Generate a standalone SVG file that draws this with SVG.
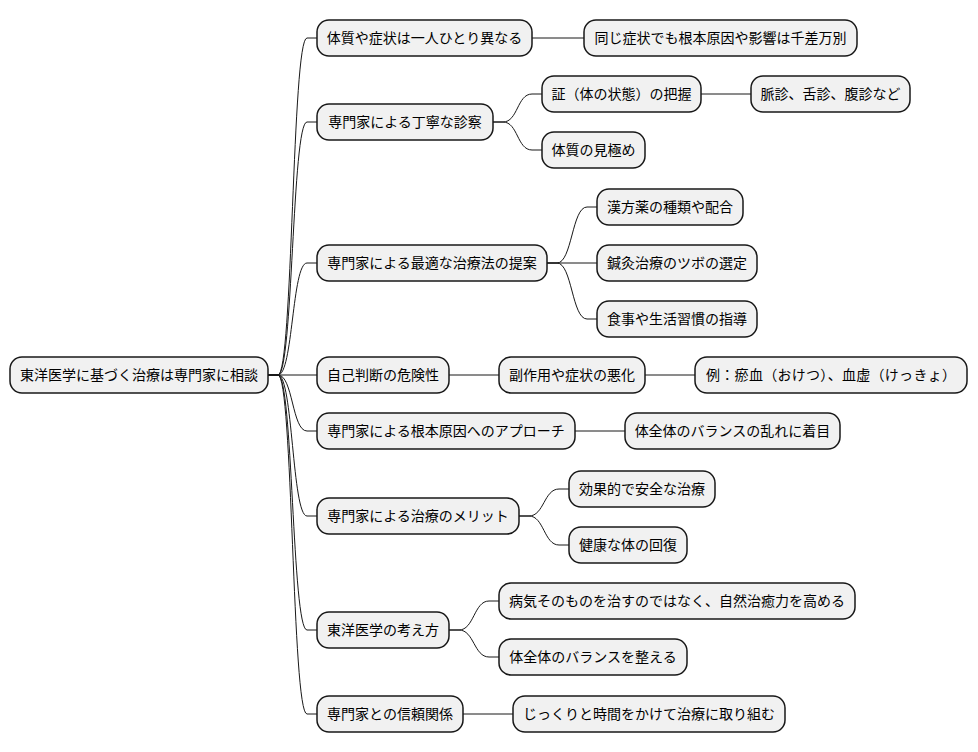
<svg xmlns="http://www.w3.org/2000/svg" width="978" height="752" viewBox="0 0 978 752">
<style>
.n rect{fill:#F1F1F1;stroke:#181818;stroke-width:1.5}
.n text{font-family:"Noto Sans CJK JP","Noto Sans",sans-serif;font-size:14px;fill:#000;text-anchor:middle}
.c path{fill:none;stroke:#181818;stroke-width:1}
</style>
<rect width="978" height="752" fill="#FFFFFF"/>
<g class="c" id="connectors">
<path d="M268 375 h10 C293 375 292 38 307 38 H317"/>
<path d="M268 375 h10 C293 375 292 122 307 122 H317"/>
<path d="M268 375 h10 C293 375 292 263 307 263 H317"/>
<path d="M268 375 H317"/>
<path d="M268 375 h10 C293 375 292 431 307 431 H317"/>
<path d="M268 375 h10 C293 375 292 516 307 516 H317"/>
<path d="M268 375 h10 C293 375 292 630 307 630 H317"/>
<path d="M268 375 h10 C293 375 292 714 307 714 H317"/>
<path d="M532 38 H584"/>
<path d="M493 122 h10 C518 122 517 94 532 94 H542"/>
<path d="M493 122 h10 C518 122 517 150 532 150 H542"/>
<path d="M701 94 H751"/>
<path d="M547 263 h10 C572 263 572 207 587 207 H597"/>
<path d="M547 263 H597"/>
<path d="M547 263 h10 C572 263 572 319 587 319 H597"/>
<path d="M449 375 H499"/>
<path d="M645 375 H695"/>
<path d="M575 431 H625"/>
<path d="M519 516 h10 C544 516 544 489 559 489 H569"/>
<path d="M519 516 h10 C544 516 544 545 559 545 H569"/>
<path d="M449 630 h10 C474 630 474 601 489 601 H499"/>
<path d="M449 630 h10 C474 630 474 657 489 657 H499"/>
<path d="M463 714 H513"/>
</g>
<g class="n" id="root"><rect x="10" y="357" width="258" height="36" rx="12"/><text x="139" y="380">東洋医学に基づく治療は専門家に相談</text></g>
<g class="n" id="a"><rect x="317" y="20" width="215" height="36" rx="12"/><text x="424.5" y="43">体質や症状は一人ひとり異なる</text></g>
<g class="n" id="a1"><rect x="584" y="20" width="273" height="36" rx="12"/><text x="720.5" y="43">同じ症状でも根本原因や影響は千差万別</text></g>
<g class="n" id="b"><rect x="317" y="104" width="176" height="36" rx="12"/><text x="405" y="127">専門家による丁寧な診察</text></g>
<g class="n" id="b1"><rect x="542" y="76" width="159" height="36" rx="12"/><text x="621.5" y="99">証（体の状態）の把握</text></g>
<g class="n" id="b1a"><rect x="751" y="76" width="159" height="36" rx="12"/><text x="830.5" y="99">脈診、舌診、腹診など</text></g>
<g class="n" id="b2"><rect x="542" y="132" width="103" height="36" rx="12"/><text x="593.5" y="155">体質の見極め</text></g>
<g class="n" id="c"><rect x="317" y="245" width="230" height="36" rx="12"/><text x="432" y="268">専門家による最適な治療法の提案</text></g>
<g class="n" id="c1"><rect x="597" y="189" width="146" height="36" rx="12"/><text x="670" y="212">漢方薬の種類や配合</text></g>
<g class="n" id="c2"><rect x="597" y="245" width="160" height="36" rx="12"/><text x="677" y="268">鍼灸治療のツボの選定</text></g>
<g class="n" id="c3"><rect x="597" y="301" width="160" height="36" rx="12"/><text x="677" y="324">食事や生活習慣の指導</text></g>
<g class="n" id="d"><rect x="317" y="357" width="132" height="36" rx="12"/><text x="383" y="380">自己判断の危険性</text></g>
<g class="n" id="d1"><rect x="499" y="357" width="146" height="36" rx="12"/><text x="572" y="380">副作用や症状の悪化</text></g>
<g class="n" id="d1a"><rect x="695" y="357" width="272" height="36" rx="12"/><text x="831" y="380" textLength="250" lengthAdjust="spacing">例：瘀血（おけつ）、血虚（けっきょ）</text></g>
<g class="n" id="e"><rect x="317" y="413" width="258" height="36" rx="12"/><text x="446" y="436">専門家による根本原因へのアプローチ</text></g>
<g class="n" id="e1"><rect x="625" y="413" width="215" height="36" rx="12"/><text x="732.5" y="436">体全体のバランスの乱れに着目</text></g>
<g class="n" id="f"><rect x="317" y="498" width="202" height="36" rx="12"/><text x="418" y="521">専門家による治療のメリット</text></g>
<g class="n" id="f1"><rect x="569" y="471" width="146" height="36" rx="12"/><text x="642" y="494">効果的で安全な治療</text></g>
<g class="n" id="f2"><rect x="569" y="527" width="118" height="36" rx="12"/><text x="628" y="550">健康な体の回復</text></g>
<g class="n" id="g"><rect x="317" y="612" width="132" height="36" rx="12"/><text x="383" y="635">東洋医学の考え方</text></g>
<g class="n" id="g1"><rect x="499" y="583" width="356" height="36" rx="12"/><text x="677" y="606">病気そのものを治すのではなく、自然治癒力を高める</text></g>
<g class="n" id="g2"><rect x="499" y="639" width="188" height="36" rx="12"/><text x="593" y="662">体全体のバランスを整える</text></g>
<g class="n" id="h"><rect x="317" y="696" width="146" height="36" rx="12"/><text x="390" y="719">専門家との信頼関係</text></g>
<g class="n" id="h1"><rect x="513" y="696" width="272" height="36" rx="12"/><text x="649" y="719">じっくりと時間をかけて治療に取り組む</text></g>
</svg>
